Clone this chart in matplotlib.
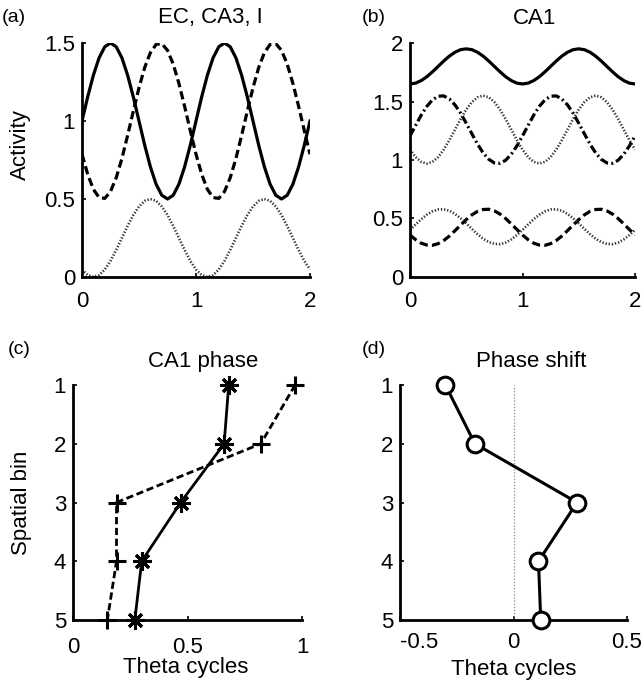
import matplotlib
matplotlib.use("Agg")
import matplotlib.pyplot as plt
import numpy as np

plt.rcParams['font.family'] = ['Liberation Sans', 'DejaVu Sans']

# ---------------- data ----------------
# time axis (theta cycles), step 0.05
t = [round(0.05 * k, 2) for k in range(41)]

ec_cycle = [1.0, 1.155, 1.294, 1.405, 1.476, 1.5, 1.476, 1.405, 1.294, 1.155,
            1.0, 0.845, 0.706, 0.595, 0.524, 0.5, 0.524, 0.595, 0.706, 0.845]
ca3_cycle = [0.787, 0.658, 0.562, 0.509, 0.504, 0.548, 0.636, 0.759, 0.907, 1.063,
             1.213, 1.343, 1.438, 1.491, 1.496, 1.453, 1.365, 1.241, 1.094, 0.938]
inh_cycle = [0.048, 0.012, 0.0, 0.012, 0.048, 0.103, 0.173, 0.25, 0.327, 0.397,
             0.452, 0.488, 0.5, 0.488, 0.452, 0.397, 0.327, 0.25, 0.173, 0.103]

ca1_top_cycle = [1.65, 1.657, 1.679, 1.712, 1.754, 1.8, 1.846, 1.888, 1.921, 1.943,
                 1.95, 1.943, 1.921, 1.888, 1.846, 1.8, 1.754, 1.712, 1.679, 1.657]
ca1_dashdot_cycle = [1.206, 1.296, 1.384, 1.459, 1.514, 1.545, 1.548, 1.522, 1.471, 1.400,
                     1.314, 1.224, 1.136, 1.061, 1.006, 0.975, 0.972, 0.998, 1.049, 1.120]
ca1_dotup_cycle = [1.089, 1.025, 0.984, 0.970, 0.984, 1.025, 1.089, 1.170, 1.260, 1.350,
                   1.431, 1.495, 1.536, 1.550, 1.536, 1.495, 1.431, 1.350, 1.260, 1.170]
ca1_dashlow_cycle = [0.359, 0.319, 0.289, 0.273, 0.271, 0.285, 0.312, 0.350, 0.396, 0.444,
                     0.491, 0.531, 0.561, 0.577, 0.579, 0.565, 0.538, 0.500, 0.454, 0.406]
ca1_dotlow_cycle = [0.402, 0.449, 0.494, 0.533, 0.561, 0.577, 0.579, 0.566, 0.539, 0.502,
                    0.458, 0.411, 0.366, 0.327, 0.299, 0.283, 0.281, 0.294, 0.321, 0.358]

spatial_bins = [1, 2, 3, 4, 5]
ca1_phase_star = [0.68, 0.66, 0.47, 0.30, 0.27]
ca1_phase_plus = [0.97, 0.82, 0.19, 0.19, 0.15]
phase_shift = [-0.30, -0.17, 0.28, 0.11, 0.12]


def two_cycles(c):
    return c + c + [c[0]]


# ---------------- figure ----------------
W, H = 643, 688
fig = plt.figure(figsize=(W / 100, H / 100), dpi=100)


def ax_px(l, r, top, bot):
    return fig.add_axes([l / W, 1 - bot / H, (r - l) / W, (bot - top) / H])


def txt(x, y, s, **kw):
    fig.text(x / W, 1 - y / H, s, **kw)


FS = 16
LW = 2.3


def style(ax, xpad):
    for s in ['top', 'right']:
        ax.spines[s].set_visible(False)
    for s in ['left', 'bottom']:
        ax.spines[s].set_linewidth(2.0)
    ax.tick_params(direction='in', length=3, width=1.2, labelsize=FS)
    ax.tick_params(axis='y', pad=5)
    ax.tick_params(axis='x', pad=xpad)


dot_style = dict(color='#333333', lw=1.9, ls=(0, (0.5, 0.7)))

# (a)
axa = ax_px(82, 310, 43, 277)
axa.plot(t, two_cycles(ec_cycle), color='black', lw=LW)
axa.plot(t, two_cycles(ca3_cycle), color='black', lw=LW, ls=(0, (2.6, 1.3)))
axa.plot(t, two_cycles(inh_cycle), **dot_style)
axa.set_xlim(0, 2)
axa.set_ylim(0, 1.5)
axa.set_xticks([0, 1, 2])
axa.set_yticks([0, 0.5, 1, 1.5])
axa.set_yticklabels(['0', '0.5', '1', '1.5'])
style(axa, 10)

# (b)
axb = ax_px(410, 635, 43, 277)
axb.plot(t, two_cycles(ca1_top_cycle), color='black', lw=LW)
axb.plot(t, two_cycles(ca1_dashdot_cycle), color='black', lw=LW,
         ls=(0, (2.6, 1.0, 0.6, 1.0)))
axb.plot(t, two_cycles(ca1_dotup_cycle), **dot_style)
axb.plot(t, two_cycles(ca1_dashlow_cycle), color='black', lw=LW, ls=(0, (2.6, 1.3)))
axb.plot(t, two_cycles(ca1_dotlow_cycle), **dot_style)
axb.set_xlim(0, 2)
axb.set_ylim(0, 2)
axb.set_xticks([0, 1, 2])
axb.set_yticks([0, 0.5, 1, 1.5, 2])
axb.set_yticklabels(['0', '0.5', '1', '1.5', '2'])
style(axb, 10)

# (c)
axc = ax_px(73, 302, 385, 620)
axc.plot(ca1_phase_plus, spatial_bins, color='black', lw=2.0, ls=(0, (2.6, 1.3)),
         marker='+', ms=13, mew=2.2, clip_on=False)
axc.plot(ca1_phase_star, spatial_bins, color='black', lw=2.0,
         marker=(8, 2, 0), ms=13, mew=2.2, clip_on=False, zorder=4)
axc.set_xlim(0, 1)
axc.set_ylim(5, 1)
axc.set_xticks([0, 0.5, 1])
axc.set_xticklabels(['0', '0.5', '1'])
axc.set_yticks(spatial_bins)
style(axc, 12)

# (d)
axd = ax_px(400, 627, 385, 620)
axd.axvline(0, color='#888888', lw=0.9, ls=(0, (1, 1.5)))
axd.plot(phase_shift, spatial_bins, color='black', lw=2.2,
         marker='o', ms=12, mfc='white', mec='black', mew=2.2, clip_on=False, zorder=4)
axd.set_xlim(-0.5, 0.5)
axd.set_ylim(5, 1)
axd.set_xticks([-0.5, 0, 0.5])
axd.set_xticklabels(['-0.5', '0', '0.5'])
axd.set_yticks(spatial_bins)
style(axd, 9)
axd.get_xticklabels()[0].set_horizontalalignment('left')

# texts
txt(2, 18, '(a)', fontsize=14, va='center', ha='left')
txt(362, 18, '(b)', fontsize=14, va='center', ha='left')
txt(8, 349, '(c)', fontsize=14, va='center', ha='left')
txt(362, 350, '(d)', fontsize=14, va='center', ha='left')
txt(210, 18, 'EC, CA3, I', fontsize=FS, va='center', ha='center')
txt(535, 18, 'CA1', fontsize=FS, va='center', ha='center')
txt(203, 361, 'CA1 phase', fontsize=FS, va='center', ha='center')
txt(531, 361, 'Phase shift', fontsize=FS, va='center', ha='center')
txt(20, 145, 'Activity', fontsize=FS, va='center', ha='center', rotation=90)
txt(22, 503, 'Spatial bin', fontsize=FS, va='center', ha='center', rotation=90)
txt(186, 668, 'Theta cycles', fontsize=FS, va='center', ha='center')
txt(514, 670, 'Theta cycles', fontsize=FS, va='center', ha='center')

fig.savefig('out.png', dpi=100)
